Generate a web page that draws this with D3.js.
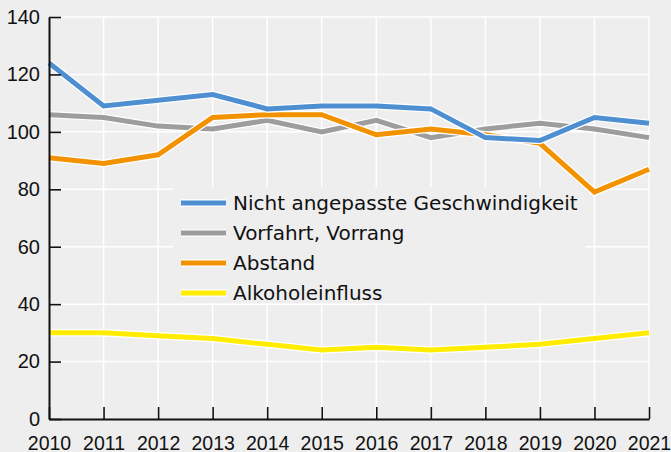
<!DOCTYPE html>
<html>
<head>
<meta charset="utf-8">
<script src="https://cdn.jsdelivr.net/npm/d3@7"></script>
<style>
  body { margin: 0; background: #eeeeee; }
  svg { display: block; font-family: "Liberation Sans", Arial, sans-serif; }
</style>
</head>
<body>
<div id="chart"></div>
<script>
var years = [2010, 2011, 2012, 2013, 2014, 2015, 2016, 2017, 2018, 2019, 2020, 2021];
var geschwindigkeit = [124, 109, 111, 113, 108, 109, 109, 108, 98, 97, 105, 103];
var vorfahrt = [106, 105, 102, 101, 104, 100, 104, 98, 101, 103, 101, 98];
var abstand = [91, 89, 92, 105, 106, 106, 99, 101, 99, 96, 79, 87];
var alkohol = [30, 30, 29, 28, 26, 24, 25, 24, 25, 26, 28, 30];
var yTicks = [0, 20, 40, 60, 80, 100, 120, 140];

var seriesNames = ["Nicht angepasste Geschwindigkeit", "Vorfahrt, Vorrang", "Abstand", "Alkoholeinfluss"];
var seriesColors = ["#4e8fd1", "#9d9d9d", "#f39200", "#ffec00"];

function setup() {
  var width = 671, height = 452;
  var margin = {left: 49, right: 22, top: 17, bottom: 33};

  var svg = d3.select("#chart").append("svg")
    .attr("width", width)
    .attr("height", height);

  svg.append("rect").attr("width", width).attr("height", height).attr("fill", "#eeeeee");

  var x = d3.scaleLinear()
    .domain([2010, 2021])
    .range([margin.left, width - margin.right]);
  var y = d3.scaleLinear()
    .domain([0, 140])
    .range([height - margin.bottom, margin.top]);

  // white grid
  var grid = svg.append("g");
  grid.selectAll("line.h")
    .data(yTicks.slice(1))
    .enter().append("line")
    .attr("x1", x(2010)).attr("x2", x(2021))
    .attr("y1", d => y(d)).attr("y2", d => y(d))
    .attr("stroke", "#ffffff").attr("stroke-width", 1.5);
  grid.selectAll("line.v")
    .data(years.slice(1))
    .enter().append("line")
    .attr("x1", d => x(d)).attr("x2", d => x(d))
    .attr("y1", y(0)).attr("y2", y(140))
    .attr("stroke", "#ffffff").attr("stroke-width", 1.5);

  // legend box covers the grid
  var legend = svg.append("g").attr("transform", "translate(181,203)");
  legend.append("rect")
    .attr("x", -8).attr("y", -16)
    .attr("width", 412).attr("height", 116)
    .attr("fill", "#eeeeee");

  var allSeries = [geschwindigkeit, vorfahrt, abstand, alkohol];
  var line = d3.line()
    .x((d, i) => x(years[i]))
    .y(d => y(d));

  // draw lines, lowest first so blue is on top
  var order = [3, 1, 2, 0];
  order.forEach(function(k) {
    svg.append("path")
      .attr("d", line(allSeries[k]))
      .attr("fill", "none")
      .attr("stroke", "#ffffff")
      .attr("stroke-width", 7.5)
      .attr("stroke-linejoin", "miter");
    svg.append("path")
      .attr("d", line(allSeries[k]))
      .attr("fill", "none")
      .attr("stroke", seriesColors[k])
      .attr("stroke-width", 5)
      .attr("stroke-linejoin", "miter");
  });

  seriesNames.forEach(function(name, i) {
    var row = legend.append("g").attr("transform", "translate(0," + (i * 30) + ")");
    row.append("line")
      .attr("x1", 0).attr("x2", 45)
      .attr("stroke", "#ffffff").attr("stroke-width", 7.5);
    row.append("line")
      .attr("x1", 0).attr("x2", 45)
      .attr("stroke", seriesColors[i]).attr("stroke-width", 5);
    row.append("text")
      .attr("x", 52).attr("y", 7)
      .attr("font-size", 20)
      .attr("font-family", "DejaVu Sans, sans-serif")
      .attr("fill", "#111")
      .text(name);
  });

  // axes
  var xAxis = d3.axisBottom(x)
    .tickValues(years)
    .tickFormat(d3.format("d"))
    .tickSizeInner(-12)
    .tickSizeOuter(0)
    .tickPadding(17);
  var gx = svg.append("g")
    .attr("transform", "translate(0," + y(0) + ")")
    .call(xAxis);
  gx.select(".domain").attr("stroke", "#111").attr("stroke-width", 2);
  gx.selectAll(".tick line").attr("stroke", "#111").attr("stroke-width", 1.6);
  gx.selectAll(".tick text")
    .attr("font-size", 19.5)
    .attr("font-family", "Liberation Sans, Arial, sans-serif")
    .attr("fill", "#111");

  var yAxis = d3.axisLeft(y)
    .tickValues(yTicks)
    .tickSizeInner(-12)
    .tickSizeOuter(0)
    .tickPadding(9);
  var gy = svg.append("g")
    .attr("transform", "translate(" + x(2010) + ",0)")
    .call(yAxis);
  gy.select(".domain").attr("stroke", "#111").attr("stroke-width", 2);
  gy.selectAll(".tick line").attr("stroke", "#111").attr("stroke-width", 1.6);
  gy.selectAll(".tick text")
    .attr("font-size", 20)
    .attr("font-family", "Liberation Sans, Arial, sans-serif")
    .attr("fill", "#111");
}

window.addEventListener("load", setup);
</script>
</body>
</html>
